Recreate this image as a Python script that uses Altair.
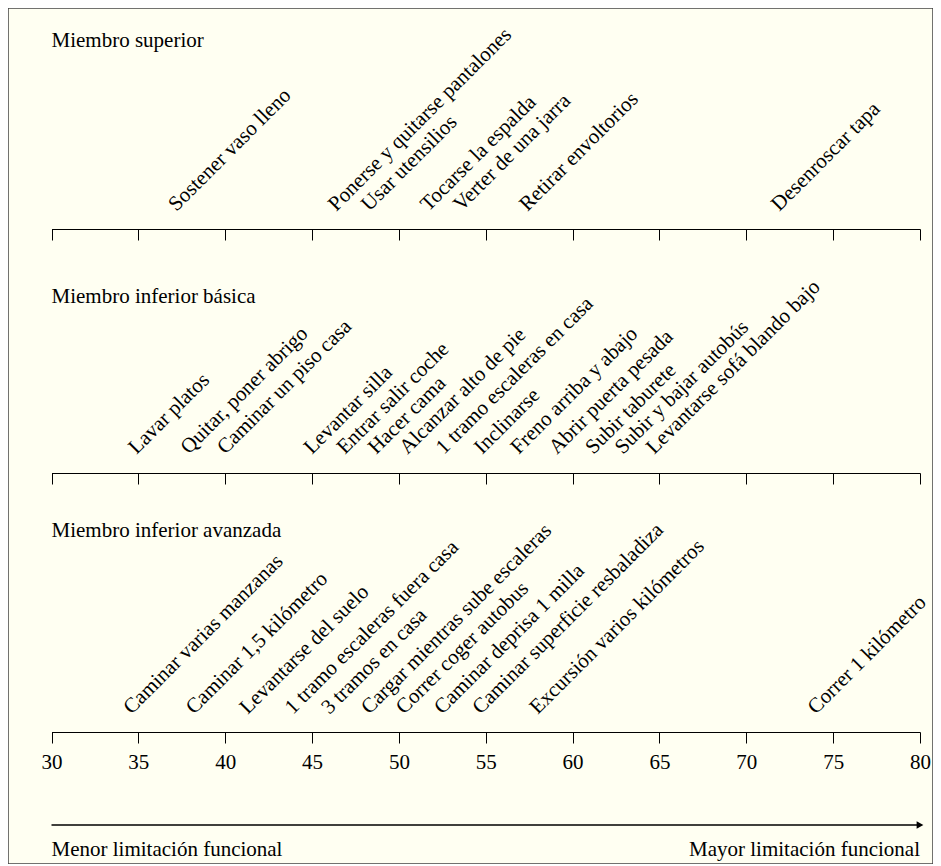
import altair as alt
import pandas as pd

FONT = "Liberation Serif, Times New Roman, Times, serif"

# ---- data ----
panel_titles = ["Miembro superior", "Miembro inferior básica", "Miembro inferior avanzada"]

sup_labels = ["Sostener vaso lleno", "Ponerse y quitarse pantalones", "Usar utensilios",
              "Tocarse la espalda", "Verter de una jarra", "Retirar envoltorios", "Desenroscar tapa"]
sup_values = [37.2, 46.4, 48.3, 51.7, 53.6, 57.4, 71.9]

bas_labels = ["Lavar platos", "Quitar, poner abrigo", "Caminar un piso casa", "Levantar silla",
              "Entrar salir coche", "Hacer cama", "Alcanzar alto de pie", "1 tramo escaleras en casa",
              "Inclinarse", "Freno arriba y abajo", "Abrir puerta pesada", "Subir taburete",
              "Subir y bajar autobús", "Levantarse sofá blando bajo"]
bas_values = [34.9, 37.9, 40.0, 45.0, 46.9, 48.7, 50.5, 52.6, 54.8, 56.9, 59.1, 61.2, 62.9, 64.7]

ava_labels = ["Caminar varias manzanas", "Caminar 1,5 kilómetro", "Levantarse del suelo",
              "1 tramo escaleras fuera casa", "3 tramos en casa", "Cargar mientras sube escaleras",
              "Correr coger autobus", "Caminar deprisa 1 milla", "Caminar superficie resbaladiza",
              "Excursión varios kilómetros", "Correr 1 kilómetro"]
ava_values = [34.6, 38.2, 41.3, 43.9, 46.0, 48.3, 50.3, 52.5, 54.7, 58.0, 74.0]

tick_values = [30, 35, 40, 45, 50, 55, 60, 65, 70, 75, 80]
x_domain = [30, 80]
note_left = "Menor limitación funcional"
note_right = "Mayor limitación funcional"

# ---- layout ----
W, H = 925, 856
xscale = alt.Scale(domain=x_domain, range=[43.5, 912], nice=False, zero=False)

panels = [
    (panel_titles[0], sup_labels, sup_values, 38.7, 204, -635, False),
    (panel_titles[1], bas_labels, bas_values, 295.3, 447, -391, False),
    (panel_titles[2], ava_labels, ava_values, 528.7, 707, -132, True),
]

layers = []
for title, labels, values, title_y, label_y, off, show in panels:
    df = pd.DataFrame({"actividad": labels, "medida": values})
    axis = alt.Axis(orient="bottom", offset=off, values=tick_values, labels=show,
                    ticks=True, tickSize=11, tickWidth=1, tickColor="black",
                    domainColor="black", domainWidth=1, grid=False, title=None,
                    labelFont=FONT, labelFontSize=21, labelColor="black",
                    labelPadding=8, labelFlush=False, labelOverlap=False, format="d")
    layers.append(
        alt.Chart(df).mark_text(angle=315, align="left", baseline="alphabetic",
                                font=FONT, fontSize=21, color="black").encode(
            x=alt.X("medida:Q", scale=xscale, axis=axis),
            y=alt.value(label_y),
            text="actividad:N",
        )
    )
    tdf = pd.DataFrame({"t": [title], "x": [x_domain[0]]})
    layers.append(
        alt.Chart(tdf).mark_text(align="left", baseline="alphabetic", font=FONT,
                                 fontSize=21, color="black").encode(
            x=alt.X("x:Q", scale=xscale, axis=None),
            y=alt.value(title_y),
            text="t:N",
        )
    )

arrow_df = pd.DataFrame({"a": [x_domain[0]], "b": [x_domain[1]]})
layers.append(
    alt.Chart(arrow_df).mark_rule(color="black", strokeWidth=1.3).encode(
        x=alt.X("a:Q", scale=xscale, axis=None), x2="b:Q", y=alt.value(817)
    )
)
layers.append(
    alt.Chart(arrow_df).mark_point(shape="triangle-right", filled=True, size=60,
                                   color="black", opacity=1).encode(
        x=alt.X("b:Q", scale=xscale, axis=None), y=alt.value(817)
    )
)

notes_df = pd.DataFrame({"t": [note_left, note_right], "x": x_domain,
                         "al": ["left", "right"]})
layers.append(
    alt.Chart(notes_df[notes_df.al == "left"]).mark_text(
        align="left", baseline="alphabetic", font=FONT, fontSize=21, color="black").encode(
        x=alt.X("x:Q", scale=xscale, axis=None), y=alt.value(848), text="t:N")
)
layers.append(
    alt.Chart(notes_df[notes_df.al == "right"]).mark_text(
        align="right", baseline="alphabetic", font=FONT, fontSize=21, color="black").encode(
        x=alt.X("x:Q", scale=xscale, axis=None), y=alt.value(848), text="t:N")
)

chart = alt.layer(*layers).resolve_axis(x="independent").properties(
    width=W, height=H, autosize=alt.AutoSizeParams(type="none"), padding=0,
    background="#FFFFF2",
).configure_view(stroke="#444444", strokeWidth=1.5)

chart.save("out.html", embed_options={"renderer": "svg", "actions": False})
